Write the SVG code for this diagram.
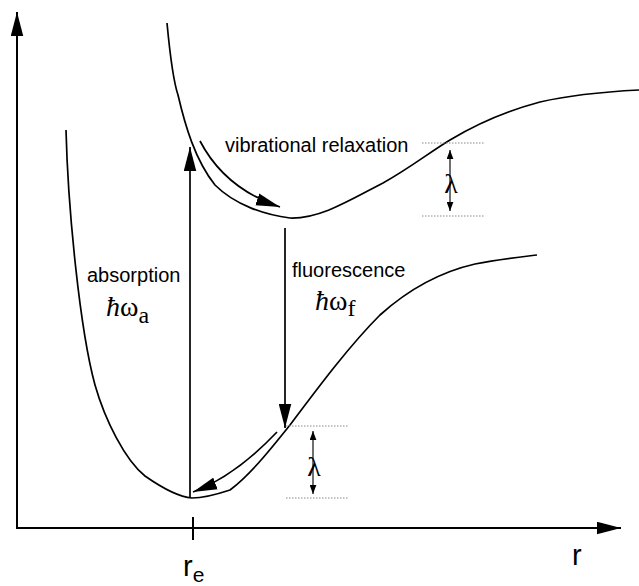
<svg xmlns="http://www.w3.org/2000/svg" width="639" height="586" viewBox="0 0 639 586">
<style>
.curve{fill:none;stroke:#000;stroke-width:1.7;stroke-linejoin:round}
.axis{fill:none;stroke:#000;stroke-width:2}
.arr{fill:none;stroke:#000;stroke-width:1.7}
.dbl{fill:none;stroke:#222;stroke-width:1.3}
.dot{fill:none;stroke:#888;stroke-width:1;stroke-dasharray:1.5,1.5}
.lbl{font-family:"Liberation Sans",Arial,sans-serif;font-size:20px;fill:#000}
.sym{font-family:"Liberation Serif","Times New Roman",serif;font-size:28px;fill:#000}
.ax{font-family:"Liberation Sans",Arial,sans-serif;font-size:29px;fill:#000}
</style>
<defs>
<marker id="big" markerUnits="userSpaceOnUse" markerWidth="24" markerHeight="13" viewBox="0 0 23 12" refX="23" refY="6" orient="auto">
<path d="M0,0 L23,6 L0,12 z" fill="#000"/>
</marker>
<marker id="small" markerUnits="userSpaceOnUse" markerWidth="9" markerHeight="7" viewBox="0 0 8 6" refX="8" refY="3" orient="auto-start-reverse">
<path d="M0,0 L8,3 L0,6 z" fill="#000"/>
</marker>
</defs>

<g id="axes">
<line class="axis" x1="17" y1="528" x2="17" y2="12" marker-end="url(#big)"/>
<line class="axis" x1="16" y1="528" x2="621" y2="528" marker-end="url(#big)"/>
<line class="axis" x1="193" y1="517" x2="193" y2="540"/>
</g>

<g id="ground-state">
<path class="curve" d="M66,130 C68,210 80,330 95,385 C105,420 125,460 145,476 C165,490 180,497 192,498 C205,498 218,494 230,490 C250,475 270,450 290,425 C320,385 350,345 380,315 C410,288 440,272 475,264 C500,259 520,257 537,255"/>
</g>

<g id="excited-state">
<path class="curve" d="M167,23 C170,55 173,80 178,95 C185,125 195,160 215,185 C235,205 265,215 290,218 C320,219 350,200 383,183 C410,168 430,152 450,140 C480,122 510,110 540,102 C570,95 600,92 639,90"/>
</g>

<g id="connectors">
<line class="arr" x1="190" y1="498" x2="190" y2="147" marker-end="url(#big)"/>
<line class="arr" x1="285" y1="228" x2="285" y2="428" marker-end="url(#big)"/>
<path class="arr" d="M200,141 C213,166 235,192 280,207" marker-end="url(#big)"/>
<path class="arr" d="M277,432 C258,452 230,478 193,492" marker-end="url(#big)"/>
<line class="dbl" x1="450" y1="150" x2="450" y2="211" marker-start="url(#small)" marker-end="url(#small)"/>
<line class="dbl" x1="313" y1="431" x2="313" y2="494" marker-start="url(#small)" marker-end="url(#small)"/>
</g>

<g id="levels">
<line class="dot" x1="422" y1="143" x2="485" y2="143"/>
<line class="dot" x1="422" y1="216" x2="485" y2="216"/>
<line class="dot" x1="286" y1="426" x2="349" y2="426"/>
<line class="dot" x1="286" y1="498" x2="349" y2="498"/>
</g>

<g id="labels">
<text class="lbl" x="225" y="152">vibrational relaxation</text>
<text class="lbl" x="87" y="282">absorption</text>
<text class="lbl" x="292" y="277">fluorescence</text>
<text class="sym" x="106" y="316"><tspan font-style="italic">ħ</tspan>ω<tspan font-size="24" dy="7">a</tspan></text>
<text class="sym" x="315" y="310"><tspan font-style="italic">ħ</tspan>ω<tspan font-size="24" dy="6">f</tspan></text>
<text class="sym" x="451" y="193" text-anchor="middle">λ</text>
<text class="sym" x="314" y="476" text-anchor="middle">λ</text>
<text class="ax" x="183" y="576">r<tspan font-size="21" dy="6">e</tspan></text>
<text class="ax" x="572" y="565">r</text>
</g>
</svg>
